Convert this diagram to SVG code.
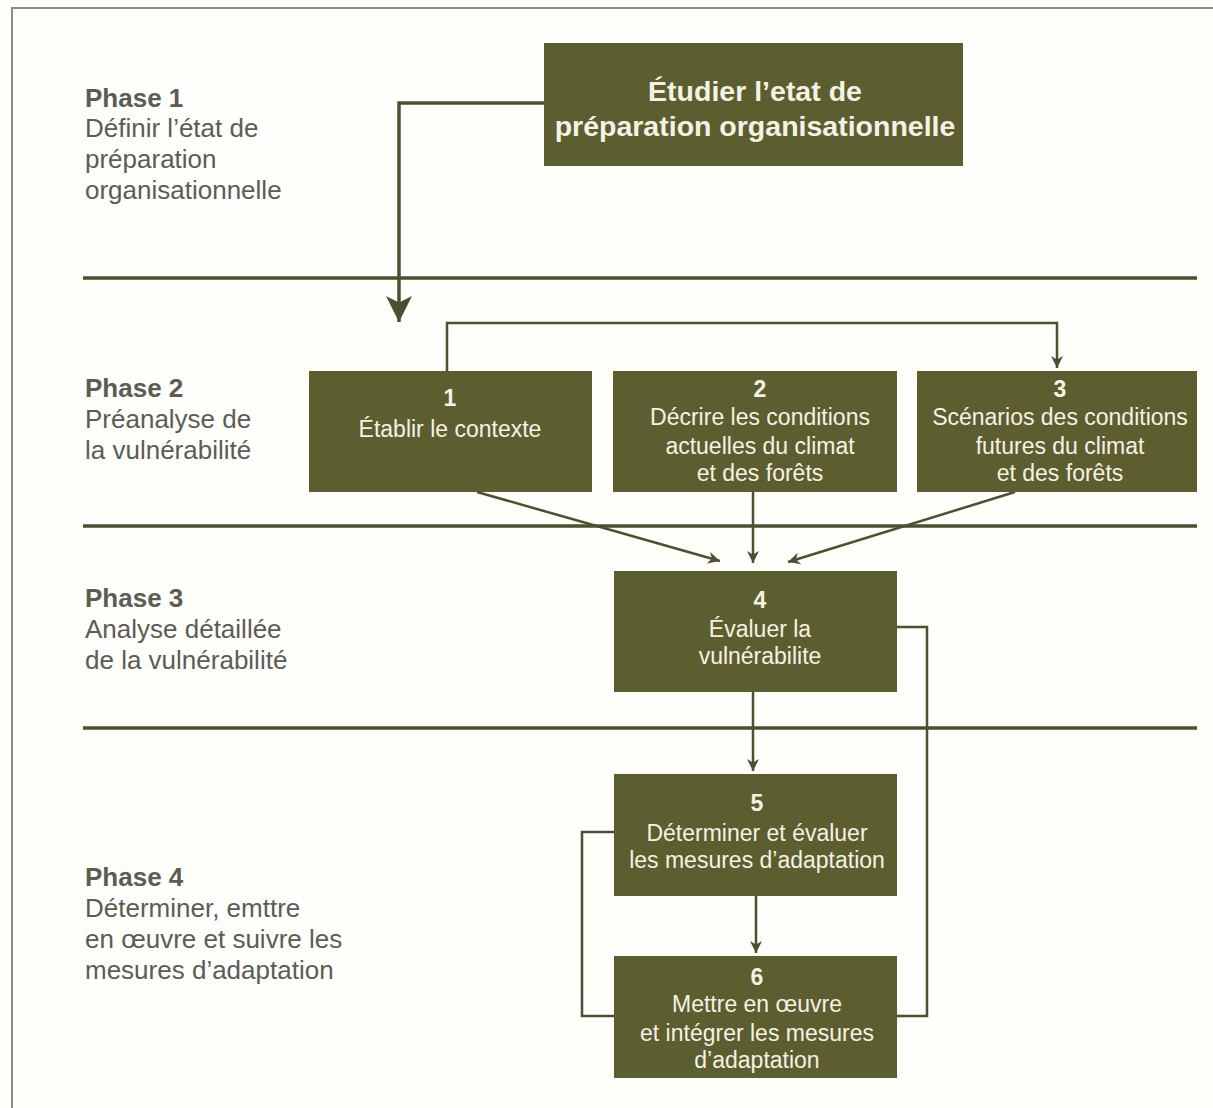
<svg xmlns="http://www.w3.org/2000/svg" width="1213" height="1108" viewBox="0 0 1213 1108">
<style>
.bg{fill:#fefefa}
.frame{fill:none;stroke:#8a8a80;stroke-width:2}
.sep{stroke:#4d5030;stroke-width:3.5}
.box{fill:#5c5e30}
.bt{font-family:"Liberation Sans",Arial,sans-serif;font-size:23px;fill:#f4f2e4;text-anchor:middle}
.num{font-weight:bold}
.title{font-family:"Liberation Sans",Arial,sans-serif;font-size:28.5px;font-weight:bold;fill:#f4f2e4;text-anchor:middle}
.ph{font-family:"Liberation Sans",Arial,sans-serif;font-size:26px;font-weight:bold;fill:#5c5c52}
.pt{font-family:"Liberation Sans",Arial,sans-serif;font-size:26px;fill:#5c5c55}
.c{fill:none;stroke:#4d5030;stroke-width:2.5}
.ct{fill:none;stroke:#4d5030;stroke-width:3.5}
</style>
<defs>
<marker id="ah" viewBox="0 0 10 10" refX="10" refY="5" markerWidth="12" markerHeight="16" markerUnits="userSpaceOnUse" orient="auto">
<path d="M0,0 L10,5 L0,10 L3,5 z" fill="#4d5030"/>
</marker>
<marker id="ahb" viewBox="0 0 10 10" refX="10" refY="5" markerWidth="26" markerHeight="26" markerUnits="userSpaceOnUse" orient="auto">
<path d="M0,0 L10,5 L0,10 L2.5,5 z" fill="#4d5030"/>
</marker>
</defs>
<rect class="bg" x="0" y="0" width="1213" height="1108"/>
<path class="frame" d="M12,1108 V8 H1213"/>

<g id="separators">
<line class="sep" x1="83" y1="278" x2="1197" y2="278"/>
<line class="sep" x1="83" y1="526" x2="1197" y2="526"/>
<line class="sep" x1="83" y1="728" x2="1197" y2="728"/>
</g>

<g id="phase1">
<text class="ph" x="85" y="107">Phase 1</text>
<text class="pt" x="85" y="137">Définir l’état de</text>
<text class="pt" x="85" y="168">préparation</text>
<text class="pt" x="85" y="199">organisationnelle</text>
</g>
<g id="phase2">
<text class="ph" x="85" y="397">Phase 2</text>
<text class="pt" x="85" y="428">Préanalyse de</text>
<text class="pt" x="85" y="459">la vulnérabilité</text>
</g>
<g id="phase3">
<text class="ph" x="85" y="607">Phase 3</text>
<text class="pt" x="85" y="638">Analyse détaillée</text>
<text class="pt" x="85" y="669">de la vulnérabilité</text>
</g>
<g id="phase4">
<text class="ph" x="85" y="886">Phase 4</text>
<text class="pt" x="85" y="917">Déterminer, emttre</text>
<text class="pt" x="85" y="948">en œuvre et suivre les</text>
<text class="pt" x="85" y="979">mesures d’adaptation</text>
</g>

<g id="connectors">
<path class="ct" d="M544,103 H399 V322" marker-end="url(#ahb)"/>
<path class="c" d="M447,371 V323 H1057 V368" marker-end="url(#ah)"/>
<path class="c" d="M477,492 L720,561" marker-end="url(#ah)"/>
<path class="c" d="M753,492 V563" marker-end="url(#ah)"/>
<path class="c" d="M1015,492 L788,562" marker-end="url(#ah)"/>
<path class="c" d="M753,692 V771" marker-end="url(#ah)"/>
<path class="c" d="M756,896 V953" marker-end="url(#ah)"/>
<path class="c" d="M897,627 H927 V1016 H897"/>
<path class="c" d="M614,832 H582 V1016 H614"/>
</g>

<g id="node-top">
<rect class="box" x="544" y="43" width="419" height="123"/>
<text class="title" x="755" y="101">Étudier l’etat de</text>
<text class="title" x="755" y="136">préparation organisationnelle</text>
</g>
<g id="node-1">
<rect class="box" x="309" y="371" width="283" height="121"/>
<text class="bt num" x="450" y="406">1</text>
<text class="bt" x="450" y="437">Établir le contexte</text>
</g>
<g id="node-2">
<rect class="box" x="613" y="371" width="284" height="121"/>
<text class="bt num" x="760" y="397">2</text>
<text class="bt" x="760" y="425">Décrire les conditions</text>
<text class="bt" x="760" y="454">actuelles du climat</text>
<text class="bt" x="760" y="481">et des forêts</text>
</g>
<g id="node-3">
<rect class="box" x="917" y="371" width="280" height="121"/>
<text class="bt num" x="1060" y="397">3</text>
<text class="bt" x="1060" y="425">Scénarios des conditions</text>
<text class="bt" x="1060" y="454">futures du climat</text>
<text class="bt" x="1060" y="481">et des forêts</text>
</g>
<g id="node-4">
<rect class="box" x="614" y="571" width="283" height="121"/>
<text class="bt num" x="760" y="608">4</text>
<text class="bt" x="760" y="637">Évaluer la</text>
<text class="bt" x="760" y="664">vulnérabilite</text>
</g>
<g id="node-5">
<rect class="box" x="614" y="774" width="283" height="122"/>
<text class="bt num" x="757" y="811">5</text>
<text class="bt" x="757" y="841">Déterminer et évaluer</text>
<text class="bt" x="757" y="868">les mesures d’adaptation</text>
</g>
<g id="node-6">
<rect class="box" x="614" y="956" width="283" height="122"/>
<text class="bt num" x="757" y="985">6</text>
<text class="bt" x="757" y="1012">Mettre en œuvre</text>
<text class="bt" x="757" y="1041">et intégrer les mesures</text>
<text class="bt" x="757" y="1068">d’adaptation</text>
</g>
</svg>
